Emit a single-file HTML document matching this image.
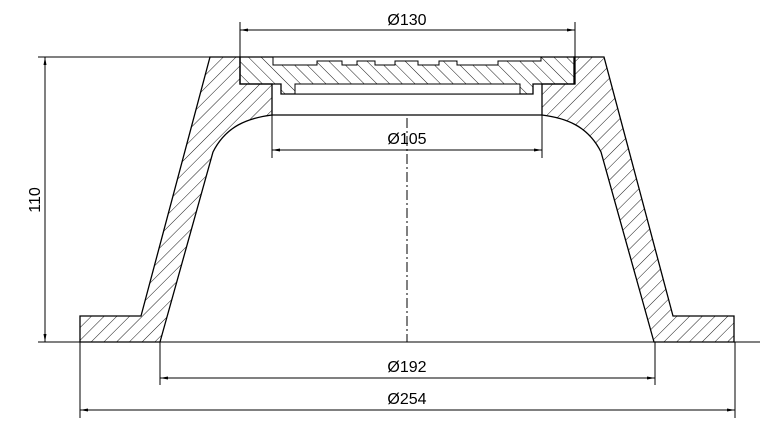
<!DOCTYPE html>
<html><head><style>html,body{margin:0;padding:0;background:#fff}svg{display:block}</style></head>
<body>
<svg width="768" height="434" viewBox="0 0 768 434" xmlns="http://www.w3.org/2000/svg">
<defs>
<pattern id="hb" patternUnits="userSpaceOnUse" width="9" height="9" patternTransform="rotate(45)">
<line x1="0" y1="0" x2="0" y2="9" stroke="#000" stroke-width="0.9"/></pattern>
<pattern id="hl" patternUnits="userSpaceOnUse" width="9" height="9" patternTransform="rotate(-45)">
<line x1="0" y1="0" x2="0" y2="9" stroke="#000" stroke-width="0.9"/></pattern>
<marker id="ar" markerWidth="8" markerHeight="6" refX="8" refY="3" orient="auto-start-reverse" markerUnits="userSpaceOnUse">
<path d="M0,1.5 L8,3 L0,4.5 z" fill="#000"/></marker>
</defs>
<g stroke="#000" stroke-width="1.3" fill="url(#hb)">
<path d="M210,57 L240,57 L240,84 L272,84 L272,115 C248,118 226,126 213,152 L160,342 L80,342 L80,316 L141,316 Z"/>
<path d="M604,57 L574,57 L574,84 L542,84 L542,115 C566,118 588,126 601,152 L654,342 L734,342 L734,316 L673,316 Z"/>
</g>
<path d="M240,57 L575,57 L575,84 L533,84 L533,94 L281,94 L281,84 L240,84 Z" fill="url(#hl)" stroke="#000" stroke-width="1.3"/>
<path d="M273,57 L273,65 L317,65 L317,61 L342,61 L342,65 L357,65 L357,61 L375,61 L375,65 L395,65 L395,61 L418,61 L418,65 L439,65 L439,61 L457,61 L457,65 L498,65 L498,61 L541,61 L541,57 Z" fill="#fff" stroke="#000" stroke-width="1"/>
<rect x="295" y="84" width="225" height="10" fill="#fff" stroke="#000" stroke-width="1"/>
<line x1="272" y1="115" x2="542" y2="115" stroke="#000" stroke-width="1.2"/>
<g stroke="#000" stroke-width="1" fill="none">
<line x1="38" y1="57" x2="210" y2="57"/>
<line x1="38" y1="342" x2="760" y2="342"/>
<line x1="45" y1="57" x2="45" y2="342" marker-start="url(#ar)" marker-end="url(#ar)"/>
<line x1="240" y1="22" x2="240" y2="57"/><line x1="575" y1="22" x2="575" y2="57"/>
<line x1="240" y1="30" x2="575" y2="30" marker-start="url(#ar)" marker-end="url(#ar)"/>
<line x1="272" y1="115" x2="272" y2="158"/><line x1="542" y1="115" x2="542" y2="158"/>
<line x1="272" y1="150" x2="542" y2="150" marker-start="url(#ar)" marker-end="url(#ar)"/>
<line x1="160" y1="342" x2="160" y2="385"/><line x1="655" y1="342" x2="655" y2="385"/>
<line x1="160" y1="378" x2="655" y2="378" marker-start="url(#ar)" marker-end="url(#ar)"/>
<line x1="80" y1="342" x2="80" y2="418"/><line x1="735" y1="342" x2="735" y2="418"/>
<line x1="80" y1="410" x2="735" y2="410" marker-start="url(#ar)" marker-end="url(#ar)"/>
<line x1="407" y1="118" x2="407" y2="342" stroke-dasharray="10,3,2,3"/>
</g>
<g font-family="Liberation Sans, sans-serif" font-size="16" fill="#000" text-anchor="middle">
<text x="407" y="25">Ø130</text>
<text x="407" y="144">Ø105</text>
<text x="407" y="372">Ø192</text>
<text x="407" y="404">Ø254</text>
<text transform="translate(40,200) rotate(-90)">110</text>
</g>
</svg>
</body></html>
